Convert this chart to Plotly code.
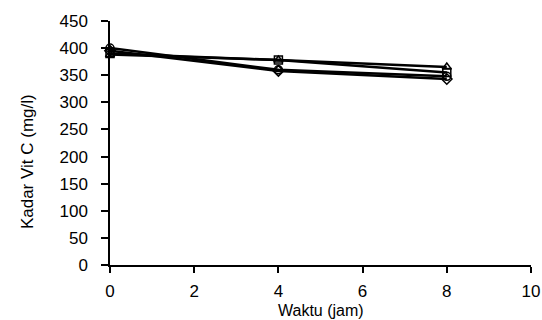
import plotly.graph_objects as go

waktu = [0, 4, 8]
series_circle = [400, 360, 348]
series_diamond = [395, 358, 343]
series_square = [390, 378, 355]
series_triangle = [388, 378, 365]

x_ticks = [0, 2, 4, 6, 8, 10]
y_ticks = [0, 50, 100, 150, 200, 250, 300, 350, 400, 450]

fig = go.Figure()
for name, vals, sym in [
    ("A", series_circle, "circle-open"),
    ("B", series_diamond, "diamond-open"),
    ("C", series_square, "square-open"),
    ("D", series_triangle, "triangle-up-open"),
]:
    fig.add_trace(go.Scatter(
        x=waktu, y=vals, mode="lines+markers", name=name,
        line=dict(color="black", width=2.5),
        marker=dict(symbol=sym, size=8, color="black", line=dict(width=1.5)),
        showlegend=False, cliponaxis=False,
    ))

font = dict(family="Liberation Sans, Arial, sans-serif", size=17, color="black")
fig.update_layout(
    width=542, height=320,
    margin=dict(l=110, r=11, t=21, b=55),
    plot_bgcolor="white", paper_bgcolor="white",
    font=font,
)
fig.update_xaxes(
    range=[0, 10], tickvals=x_ticks, showgrid=False, zeroline=False,
    showline=True, linecolor="black", linewidth=1.5,
    ticks="outside", ticklen=6, tickcolor="black", tickwidth=1.5,
    automargin=False, ticklabelstandoff=4,
)
fig.update_yaxes(
    range=[0, 450], tickvals=y_ticks, showgrid=False, zeroline=False,
    showline=True, linecolor="black", linewidth=1.5,
    ticks="outside", ticklen=7, tickcolor="black", tickwidth=1.5,
    automargin=False, ticklabelstandoff=10,
)
fig.add_annotation(
    text="Waktu (jam)", xref="paper", yref="paper", x=0.5, y=-0.186,
    xanchor="center", yanchor="middle", showarrow=False,
    font=dict(family=font["family"], size=16, color="black"), borderpad=0,
)
fig.add_annotation(
    text="Kadar Vit C (mg/l)", xref="paper", yref="paper", x=-0.197, y=0.422,
    xanchor="center", yanchor="middle", textangle=-90, showarrow=False, font=font,
)
fig.write_html(
    "out.html",
    config={"displayModeBar": False},
    post_script="document.body.style.margin='0';document.body.style.overflow='hidden';",
)
